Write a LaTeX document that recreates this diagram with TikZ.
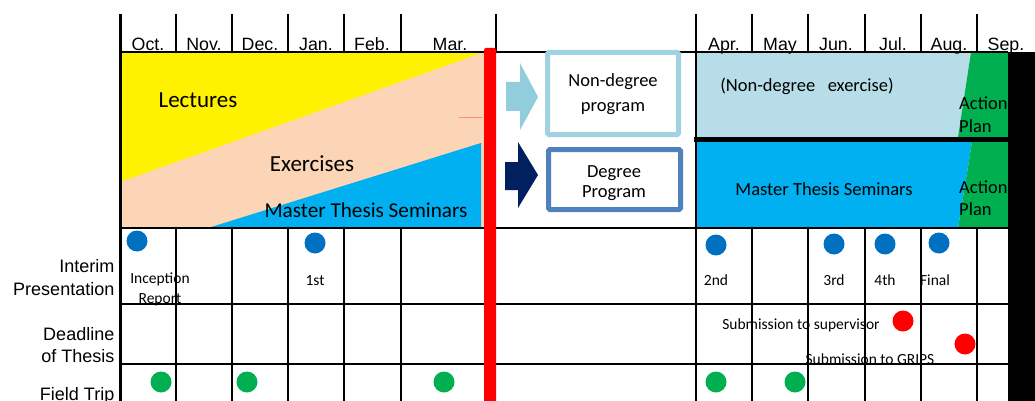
\documentclass[tikz,border=0pt]{standalone}
\usepackage{fontspec}
\setmainfont{Carlito}
\newfontfamily\arialf{Liberation Sans}
\definecolor{peach}{RGB}{251,213,181}
\definecolor{bandblue}{RGB}{0,176,240}
\definecolor{lightband}{RGB}{183,222,232}
\definecolor{actgreen}{RGB}{0,176,80}
\definecolor{dotblue}{RGB}{0,112,192}
\definecolor{arrowlight}{RGB}{146,205,220}
\definecolor{arrownavy}{RGB}{0,32,96}
\definecolor{boxlight}{RGB}{160,210,225}
\definecolor{boxsteel}{RGB}{79,129,189}
\tikzset{
  month/.style={font=\arialf\fontsize{17.8}{20}\selectfont, anchor=base, inner sep=0pt},
  rowlab/.style={font=\arialf\fontsize{18}{21}\selectfont, anchor=base east, inner sep=0pt},
  bigtxt/.style={font=\fontsize{23}{26}\selectfont, anchor=base, inner sep=0pt},
  midtxt/.style={font=\fontsize{18.5}{21}\selectfont, anchor=base, inner sep=0pt},
  smalltxt/.style={font=\fontsize{15.5}{18}\selectfont, anchor=base, inner sep=0pt},
  grid/.style={line width=1.6pt, black},
  dot/.style={circle, minimum size=21pt, inner sep=0pt},
}
\begin{document}
\begin{tikzpicture}[x=1pt,y=-1pt]
\useasboundingbox (0,0) rectangle (1035,401);
\clip (0,0) rectangle (1035,401);
% left bands
\fill[peach] (120,52) rectangle (484,228);
\fill[yellow] (120,52) -- (484,52) -- (120,182) -- cycle;
\fill[bandblue] (208,228) -- (481,143) -- (481,228) -- cycle;
\draw[red!45, line width=0.4pt] (459,117) -- (483,117);
% right bands
\fill[lightband] (696,52) -- (971,52) -- (958,137) -- (696,137) -- cycle;
\fill[actgreen] (971,52) -- (1008,52) -- (1008,137) -- (958,137) -- cycle;
\fill[bandblue] (696,142) -- (972,142) -- (958,228) -- (696,228) -- cycle;
\fill[actgreen] (972,142) -- (1008,142) -- (1008,228) -- (958,228) -- cycle;
\draw[line width=5pt] (694,139.5) -- (1008,139.5);
\fill[black] (1008,52) rectangle (1035,401);
% grid: header verticals
\foreach \x in {176,232,288,344,401,496,752,808,865,921,977}
  \draw[grid] (\x,14) -- (\x,52);
\foreach \x in {176,232,288,344,401,752,808,865,921,977}
  \draw[grid] (\x,228) -- (\x,401);
\draw[line width=3pt] (120,14) -- (120,401);
\draw[grid] (696,14) -- (696,401);
\foreach \y in {52,228,304,364}
  \draw[grid] (120,\y) -- (1008,\y);
% red divider
\fill[red, rounded corners=2pt] (484,48) rectangle (496,410);
% month labels
\node[month] (oct) at (148,51) {Oct.};
\node[month] (nov) at (204,51) {Nov.};
\node[month] (dec) at (260,51) {Dec.};
\node[month] (jan) at (316,51) {Jan.};
\node[month] (feb) at (372,51) {Feb.};
\node[month] (mar) at (450,51) {Mar.};
\node[month] (apr) at (724,51) {Apr.};
\node[month] (may) at (780,51) {May};
\node[month] (jun) at (836,51) {Jun.};
\node[month] (jul) at (893,51) {Jul.};
\node[month] (aug) at (949,51) {Aug.};
\node[month] (sep) at (1006,51) {Sep.};
% band texts
\node[bigtxt] (lect) at (198,107) {Lectures};
\node[bigtxt] (exer) at (312,171.5) {Exercises};
\node[bigtxt, font=\fontsize{21.2}{24}\selectfont] (mtsl) at (366,217.5) {Master Thesis Seminars};
\node[midtxt] (nde) at (807,92) {(Non-degree\ \ \ exercise)};
\node[midtxt] (mtsr) at (824,195) {Master Thesis Seminars};
\node[midtxt, anchor=base west] (ap1a) at (959,110) {Action};
\node[midtxt, anchor=base west] (ap1b) at (959,132) {Plan};
\node[midtxt, anchor=base west] (ap2a) at (959,193) {Action};
\node[midtxt, anchor=base west] (ap2b) at (959,215) {Plan};
% arrows
\fill[arrowlight] (506,82) -- (520,82) -- (520,63) -- (538,97) -- (520,130) -- (520,111) -- (506,111) -- cycle;
\fill[arrownavy] (505,162) -- (518,162) -- (518,142) -- (538,175) -- (518,208) -- (518,190) -- (505,190) -- cycle;
% program boxes
\draw[boxlight, line width=5pt, rounded corners=1.5pt] (547.5,52.5) rectangle (678.5,134.5);
\draw[boxsteel, line width=5pt, rounded corners=1.5pt] (548.5,149.5) rectangle (680.5,209.5);
\node[midtxt] (ndp1) at (613,87) {Non-degree};
\node[midtxt] (ndp2) at (613,112) {program};
\node[midtxt] (dp1) at (614,177) {Degree};
\node[midtxt] (dp2) at (614,197) {Program};
% row labels
\node[rowlab] (int1) at (114.5,272) {Interim};
\node[rowlab] (int2) at (114.5,295.5) {Presentation};
\node[rowlab] (dl1) at (114.5,340) {Deadline};
\node[rowlab] (dl2) at (114.5,362.5) {of Thesis};
\node[rowlab] (ft) at (114.5,400.5) {Field Trip};
% interim dots
\node[dot, fill=dotblue] (p0) at (137,241) {};
\node[dot, fill=dotblue] (p1) at (315,243) {};
\node[dot, fill=dotblue] (p2) at (716,245) {};
\node[dot, fill=dotblue] (p3) at (834,244) {};
\node[dot, fill=dotblue] (p4) at (885,244) {};
\node[dot, fill=dotblue] (p5) at (939,243) {};
\node[smalltxt] (t0a) at (160,283) {Inception};
\node[smalltxt] (t0b) at (160,303) {Report};
\node[smalltxt] (t1) at (315,285) {1st};
\node[smalltxt] (t2) at (716,285) {2nd};
\node[smalltxt] (t3) at (834,285) {3rd};
\node[smalltxt] (t4) at (885,285) {4th};
\node[smalltxt] (t5) at (935,285) {Final};
% deadlines
\node[dot, fill=red] (d1) at (903,321) {};
\node[dot, fill=red] (d2) at (965,344) {};
\node[smalltxt] (s1) at (801,329) {Submission to supervisor};
\node[smalltxt] (s2) at (870,364) {Submission to GRIPS};
% field trips
\node[dot, fill=actgreen] (f1) at (161,382) {};
\node[dot, fill=actgreen] (f2) at (247,382) {};
\node[dot, fill=actgreen] (f3) at (444,382) {};
\node[dot, fill=actgreen] (f4) at (716,382) {};
\node[dot, fill=actgreen] (f5) at (795,382) {};
\end{tikzpicture}
\end{document}
